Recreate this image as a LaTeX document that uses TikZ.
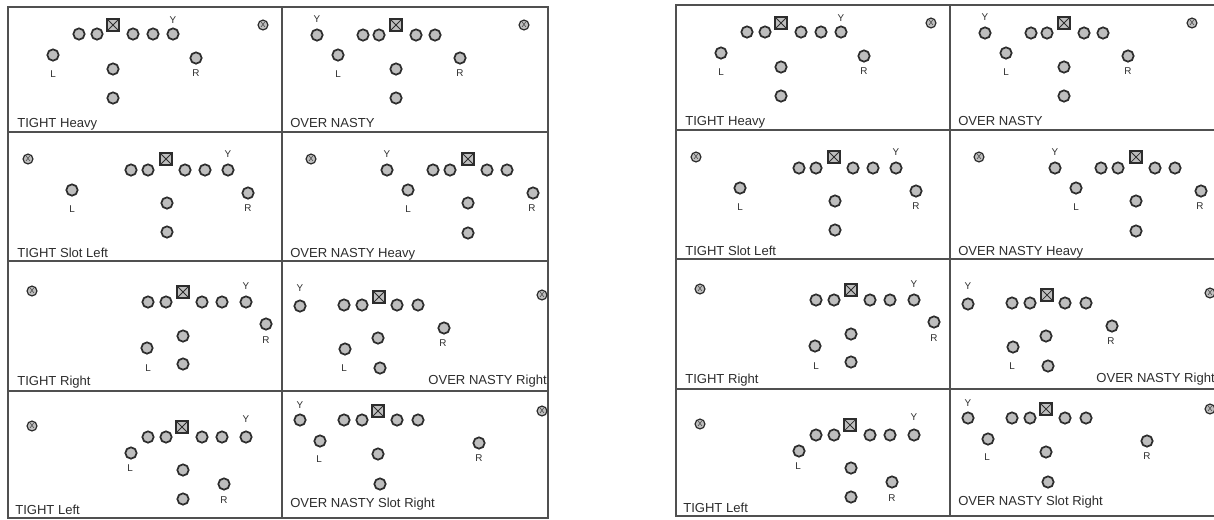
\documentclass[tikz,border=0pt]{standalone}
\usepackage{fontspec}
\setmainfont{Liberation Sans}
\usepackage{tikz}

\definecolor{chip}{RGB}{190,190,190}
\definecolor{ink}{RGB}{45,45,45}
\definecolor{rule}{RGB}{80,80,80}

\tikzset{
  player/.style={circle, draw=ink, fill=chip, line width=1.3pt, minimum size=8.5pt, inner sep=0pt},
  ball/.style={rectangle, draw=ink, fill=chip, line width=1.3pt, minimum size=8.8pt, inner sep=0pt,
    path picture={\draw[ink, line width=0.55pt]
      (path picture bounding box.south west) -- (path picture bounding box.north east)
      (path picture bounding box.north west) -- (path picture bounding box.south east);}},
  wideout/.style={circle, draw=ink, fill=chip, line width=0.9pt, minimum size=7.4pt, inner sep=0pt,
    text=ink, font=\fontsize{5.5}{5.5}\selectfont},
  tag/.style={inner sep=0pt, text=ink, font=\fontsize{7.4}{8}\selectfont},
  setname/.style={inner sep=0pt, anchor=base west, text=ink, font=\fontsize{9.8}{11}\selectfont},
  cellline/.style={draw=rule, line width=1.2pt}
}

% one sheet of eight formations
\newcommand{\playbook}{%
  % frame
  \draw[cellline] (8,7) rectangle (548,518);
  \draw[cellline] (282,7) -- (282,518);
  \foreach \y in {132,261,391} \draw[cellline] (8,\y) -- (548,\y);

  % TIGHT Heavy
  \foreach \x [count=\i] in {79,97,133,153,173} \node[player] (th\i) at (\x,34) {};
  \node[ball] (thc) at (113,25) {};
  \node[tag] (thy) at (173,20) {Y};
  \node[player] (thl) at (53,55) {};
  \node[tag] (thlt) at (53,74) {L};
  \node[player] (thr) at (196,58) {};
  \node[tag] (thrt) at (196,73) {R};
  \node[player] (thb1) at (113,69) {};
  \node[player] (thb2) at (113,98) {};
  \node[wideout] (thx) at (263,25) {X};
  \node[setname] (thn) at (17,127) {TIGHT Heavy};

  % OVER NASTY
  \foreach \x [count=\i] in {363,379,416,435} \node[player] (on\i) at (\x,35) {};
  \node[ball] (onc) at (396,25) {};
  \node[player] (ony) at (317,35) {};
  \node[tag] (onyt) at (317,19) {Y};
  \node[player] (onl) at (338,55) {};
  \node[tag] (onlt) at (338,74) {L};
  \node[player] (onr) at (460,58) {};
  \node[tag] (onrt) at (460,73) {R};
  \node[player] (onb1) at (396,69) {};
  \node[player] (onb2) at (396,98) {};
  \node[wideout] (onx) at (524,25) {X};
  \node[setname] (onn) at (290,127) {OVER NASTY};

  % TIGHT Slot Left
  \foreach \x [count=\i] in {131,148,185,205,228} \node[player] (ts\i) at (\x,170) {};
  \node[ball] (tsc) at (166,159) {};
  \node[tag] (tsy) at (228,154) {Y};
  \node[player] (tsl) at (72,190) {};
  \node[tag] (tslt) at (72,209) {L};
  \node[player] (tsr) at (248,193) {};
  \node[tag] (tsrt) at (248,208) {R};
  \node[player] (tsb1) at (167,203) {};
  \node[player] (tsb2) at (167,232) {};
  \node[wideout] (tsx) at (28,159) {X};
  \node[setname] (tsn) at (17,257) {TIGHT Slot Left};

  % OVER NASTY Heavy
  \foreach \x [count=\i] in {433,450,487,507} \node[player] (oh\i) at (\x,170) {};
  \node[ball] (ohc) at (468,159) {};
  \node[player] (ohy) at (387,170) {};
  \node[tag] (ohyt) at (387,154) {Y};
  \node[player] (ohl) at (408,190) {};
  \node[tag] (ohlt) at (408,209) {L};
  \node[player] (ohr) at (533,193) {};
  \node[tag] (ohrt) at (532,208) {R};
  \node[player] (ohb1) at (468,203) {};
  \node[player] (ohb2) at (468,233) {};
  \node[wideout] (ohx) at (311,159) {X};
  \node[setname] (ohn) at (290,257) {OVER NASTY Heavy};

  % TIGHT Right
  \foreach \x [count=\i] in {148,166,202,222,246} \node[player] (tr\i) at (\x,302) {};
  \node[ball] (trc) at (183,292) {};
  \node[tag] (try) at (246,286) {Y};
  \node[player] (trr) at (266,324) {};
  \node[tag] (trrt) at (266,340) {R};
  \node[player] (trb1) at (183,336) {};
  \node[player] (trb2) at (183,364) {};
  \node[player] (trl) at (147,348) {};
  \node[tag] (trlt) at (148,368) {L};
  \node[wideout] (trx) at (32,291) {X};
  \node[setname] (trn) at (17,385) {TIGHT Right};

  % OVER NASTY Right
  \foreach \x [count=\i] in {344,362,397,418} \node[player] (or\i) at (\x,305) {};
  \node[ball] (orc) at (379,297) {};
  \node[player] (ory) at (300,306) {};
  \node[tag] (oryt) at (300,288) {Y};
  \node[player] (orr) at (444,328) {};
  \node[tag] (orrt) at (443,343) {R};
  \node[player] (orb1) at (378,338) {};
  \node[player] (orb2) at (380,368) {};
  \node[player] (orl) at (345,349) {};
  \node[tag] (orlt) at (344,368) {L};
  \node[wideout] (orx) at (542,295) {X};
  \node[setname, anchor=base east] (orn) at (547,384) {OVER NASTY Right};

  % TIGHT Left
  \foreach \x [count=\i] in {148,166,202,222,246} \node[player] (tl\i) at (\x,437) {};
  \node[ball] (tlc) at (182,427) {};
  \node[tag] (tly) at (246,419) {Y};
  \node[player] (tll) at (131,453) {};
  \node[tag] (tllt) at (130,468) {L};
  \node[player] (tlb1) at (183,470) {};
  \node[player] (tlb2) at (183,499) {};
  \node[player] (tlr) at (224,484) {};
  \node[tag] (tlrt) at (224,500) {R};
  \node[wideout] (tlx) at (32,426) {X};
  \node[setname] (tln) at (15,514) {TIGHT Left};

  % OVER NASTY Slot Right
  \foreach \x [count=\i] in {344,362,397,418} \node[player] (os\i) at (\x,420) {};
  \node[ball] (osc) at (378,411) {};
  \node[player] (osy) at (300,420) {};
  \node[tag] (osyt) at (300,405) {Y};
  \node[player] (osl) at (320,441) {};
  \node[tag] (oslt) at (319,459) {L};
  \node[player] (osr) at (479,443) {};
  \node[tag] (osrt) at (479,458) {R};
  \node[player] (osb1) at (378,454) {};
  \node[player] (osb2) at (380,484) {};
  \node[wideout] (osx) at (542,411) {X};
  \node[setname] (osn) at (290,507) {OVER NASTY Slot Right};
}

\begin{document}
\begin{tikzpicture}[x=0.75pt,y=0.75pt,yscale=-1,xscale=1]
  \useasboundingbox (0,0) rectangle (1214,519);
  \clip (0,0) rectangle (1214,519);

  % left sheet
  \begin{scope}[name prefix=a-]
    \playbook
  \end{scope}

  % right sheet, cut at the edge
  \begin{scope}[shift={(668,-2)}, name prefix=b-]
    \playbook
  \end{scope}
\end{tikzpicture}
\end{document}
